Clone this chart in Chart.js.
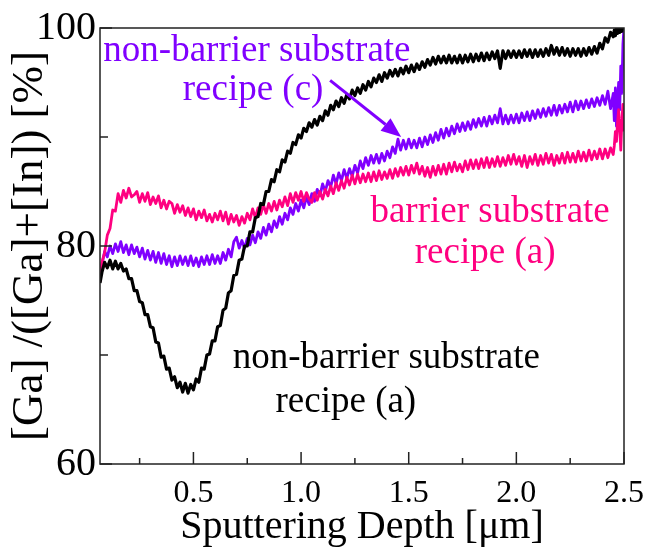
<!DOCTYPE html>
<html><head><meta charset="utf-8">
<script src="https://cdn.jsdelivr.net/npm/chart.js@4.4.1/dist/chart.umd.min.js"></script>
<style>html,body{margin:0;padding:0;background:#fff;}#wrap{width:654px;height:553px;}</style>
</head><body><div id="wrap"><canvas id="c" width="654" height="553"></canvas></div>
<script>
// Sputtering depth [µm]
const depth = [0.066,
0.075,0.0875,0.1,0.1125,0.125,0.1375,0.15,0.1625,0.175,0.1875,0.2,0.2125,0.225,0.2375,0.25,0.2625,0.275,0.2875,0.3,0.3125,0.325,0.3375,0.35,0.3625,0.375,0.3875,0.4,0.4125,0.425,0.4375,0.45,0.4625,0.475,0.4875,0.5,0.5125,0.525,0.5375,0.55,0.5625,0.575,0.5875,0.6,0.6125,0.625,0.6375,0.65,0.6625,0.675,0.6875,0.7,0.7125,0.725,0.7375,0.75,0.7625,0.775,0.7875,0.8,0.8125,0.825,0.8375,0.85,0.8625,0.875,0.8875,0.9,0.9125,0.925,0.9375,0.95,0.9625,0.975,0.9875,1.0,1.0125,1.025,1.0375,1.05,1.0625,1.075,1.0875,1.1,1.1125,1.125,1.1375,1.15,1.1625,1.175,1.1875,1.2,1.2125,1.225,1.2375,1.25,1.2625,1.275,1.2875,1.3,1.3125,1.325,1.3375,1.35,1.3625,1.375,1.3875,1.4,1.4125,1.425,1.4375,1.45,1.4625,1.475,1.4875,1.5,1.5125,1.525,1.5375,1.55,1.5625,1.575,1.5875,1.6,1.6125,1.625,1.6375,1.65,1.6625,1.675,1.6875,1.7,1.7125,1.725,1.7375,1.75,1.7625,1.775,1.7875,1.8,1.8125,1.825,1.8375,1.85,1.8625,1.875,1.8875,1.9,1.9125,1.925,1.9375,1.95,1.9625,1.975,1.9875,2.0,2.0125,2.025,2.0375,2.05,2.0625,2.075,2.0875,2.1,2.1125,2.125,2.1375,2.15,2.1625,2.175,2.1875,2.2,2.2125,2.225,2.2375,2.25,2.2625,2.275,2.2875,2.3,2.3125,2.325,2.3375,2.35,2.3625,2.375,2.3875,2.4,2.4125,2.425,2.4375,2.45,
2.455,2.46,2.465,2.47,2.475,2.48,2.485,2.49,2.495,2.5];

// barrier substrate, recipe (a)  [Ga]/([Ga]+[In]) %
const barrierA = [76.7,
78.5,79.4,81.0,81.6,83.3,83.2,84.8,84.0,85.1,84.4,
85.3,84.5,84.7,85.0,84.0,84.8,84.1,84.9,83.8,84.5,
83.9,84.6,83.5,84.2,83.4,84.1,83.9,83.0,83.8,83.1,
83.7,82.8,83.5,82.7,83.4,82.4,83.2,82.6,83.3,82.3,
82.9,82.2,83.0,82.4,83.2,82.3,83.1,82.0,82.9,82.2,
82.8,81.9,82.7,82.1,83.0,82.4,83.4,82.6,83.5,82.9,
83.8,83.0,83.9,83.2,84.1,83.3,84.2,83.6,84.5,83.7,
84.8,84.0,84.9,84.2,85.0,84.1,84.9,84.3,84.0,84.9,
84.2,85.0,84.3,85.2,84.6,85.5,84.8,85.8,85.1,86.0,
85.3,86.3,85.6,86.5,85.7,86.6,85.8,86.6,85.9,86.7,
85.9,86.8,86.0,86.9,86.1,86.8,86.2,87.0,86.2,87.1,
86.4,87.2,86.5,87.3,86.5,87.4,86.7,87.6,86.6,87.3,
86.4,87.2,86.3,87.3,86.5,87.4,86.6,87.5,86.6,87.6,
86.8,87.7,86.9,87.5,86.8,87.8,87.0,87.9,87.1,87.9,
87.1,88.0,87.2,88.1,87.2,88.0,87.3,88.2,87.3,88.1,
87.4,88.3,87.5,88.4,87.5,88.2,87.3,88.3,87.2,88.2,
87.5,88.4,87.4,88.3,87.5,88.5,87.6,88.4,87.4,88.3,
87.6,88.5,87.6,88.6,87.7,88.5,87.7,88.7,87.8,88.6,
87.8,88.8,87.9,88.7,88.0,88.9,88.0,88.9,88.1,89.0,
88.4,
89.2,90.5,89.6,91.3,92.5,90.8,88.8,91.5,93.0,90.5];

// non-barrier substrate, recipe (c)
const nonBarrierC = [76.8,
78.3,79.5,79.0,80.0,79.3,80.2,79.5,80.4,79.4,80.1,
79.2,80.1,79.3,79.9,79.0,79.8,78.8,79.6,78.7,79.5,
78.5,79.4,78.4,79.3,78.3,79.1,78.1,79.0,78.2,79.1,
78.3,79.0,78.2,79.1,78.2,78.9,78.1,79.0,78.3,79.1,
78.3,79.2,78.4,79.1,78.4,79.4,78.7,79.7,79.0,80.4,
80.8,79.8,80.5,79.8,80.7,80.1,81.0,80.3,81.3,80.7,
81.7,81.0,82.0,81.3,82.3,81.7,82.7,82.0,83.0,82.4,
83.5,82.9,83.9,83.2,84.2,83.5,84.5,83.8,84.8,84.1,
85.2,84.6,85.7,85.0,86.0,85.4,86.5,85.7,86.7,86.0,
87.0,86.2,87.1,86.4,87.4,86.7,87.8,87.1,88.1,87.4,
88.3,87.6,88.4,87.6,88.5,87.8,88.7,88.1,89.1,88.5,
89.8,88.8,89.7,88.9,89.8,89.0,89.7,89.0,89.9,89.1,
90.0,89.3,90.2,89.5,90.4,89.7,90.7,89.9,90.8,90.1,
91.0,90.3,91.2,90.5,91.3,90.6,91.4,90.7,91.6,90.9,
91.7,91.0,91.8,91.0,91.9,91.2,92.0,91.3,92.6,91.2,
92.0,91.2,92.0,91.3,92.1,91.3,92.2,91.5,92.3,91.5,
92.4,91.7,92.5,91.8,92.6,91.9,92.7,92.0,92.9,92.0,
92.9,92.2,93.0,92.3,93.2,92.3,93.3,92.5,93.3,92.6,
93.4,92.7,93.5,92.8,93.6,92.9,93.8,93.0,94.2,92.6,
94.0,
91.5,94.5,91.0,93.0,95.0,92.5,96.5,94.0,98.5,100.0];

// non-barrier substrate, recipe (a)
const nonBarrierA = [76.6,
77.6,78.5,78.0,78.7,77.9,78.6,77.9,78.4,77.7,77.9,
77.0,77.0,75.9,75.9,74.9,74.8,73.7,73.7,72.6,72.5,
71.2,71.1,69.8,69.9,68.7,68.8,67.7,68.0,67.0,67.5,
66.6,67.4,66.5,67.3,66.8,67.8,67.5,68.8,68.7,70.0,
70.1,71.3,71.3,72.6,72.7,74.1,74.3,75.7,75.9,77.3,
77.4,78.7,78.8,80.0,80.0,81.3,81.3,82.6,82.7,83.9,
83.8,85.0,85.0,86.1,85.9,87.0,86.8,87.9,87.7,88.7,
88.5,89.5,89.3,90.2,89.9,90.8,90.5,91.3,90.9,91.6,
91.1,91.9,91.5,92.4,92.0,92.9,92.5,93.3,92.8,93.6,
93.1,93.9,93.5,94.3,93.8,94.5,94.0,94.8,94.3,95.1,
94.6,95.4,95.0,95.7,95.1,95.9,95.4,96.1,95.6,96.2,
95.6,96.3,95.8,96.5,95.9,96.6,96.0,96.7,96.2,96.9,
96.4,97.1,96.6,97.3,96.7,97.4,96.8,97.4,96.8,97.5,
96.8,97.4,96.8,97.5,96.8,97.5,96.9,97.6,96.9,97.6,
97.0,97.7,97.0,97.7,97.1,97.8,97.2,97.9,96.3,97.9,
97.2,97.9,97.3,97.9,97.3,97.9,97.3,98.0,97.4,98.0,
97.3,98.0,97.4,98.0,97.4,98.1,97.5,98.4,97.6,98.2,
97.5,98.2,97.5,98.1,97.4,98.1,97.5,98.1,97.4,98.1,
97.5,98.2,97.6,98.3,97.7,98.6,98.1,99.1,98.7,99.6,
99.2,
99.8,99.3,100.0,99.5,100.0,99.6,100.0,99.7,100.0,100.0];

const xTickValues = [0.5,1.0,1.5,2.0,2.5];
const xMinorTicks = [0.25,0.75,1.25,1.75,2.25];
const yTickValues = [60,80,100];
const yMinorTicks = [70,90];

const PURPLE = '#8000ff', PINK = '#ff0080', BLACK = '#000000';
const SERIF = "'Liberation Serif','Times New Roman',serif";

const notes = [
  {text:'non-barrier substrate', x:0.795, y:97.9, color:PURPLE},
  {text:'recipe (c)', x:0.777, y:94.3, color:PURPLE},
  {text:'barrier substrate', x:1.878, y:83.1, color:PINK},
  {text:'recipe (a)', x:1.855, y:79.3, color:PINK},
  {text:'non-barrier substrate', x:1.396, y:69.7, color:BLACK},
  {text:'recipe (a)', x:1.208, y:65.7, color:BLACK}
];
const arrowNote = {x0:1.135, y0:95.2, x1:1.465, y1:90.0, color:PURPLE};

function pts(arr){ return depth.map((x,i)=>({x:x, y:arr[i]})); }

const decor = {
  id:'decor',
  afterDatasetsDraw(chart){
    const {ctx, chartArea:a, scales:{x, y}} = chart;
    ctx.save();
    ctx.strokeStyle = '#222'; ctx.lineWidth = 1.5;
    ctx.beginPath();
    xTickValues.forEach(v=>{const p=x.getPixelForValue(v); ctx.moveTo(p,a.bottom); ctx.lineTo(p,a.bottom-12);});
    xMinorTicks.forEach(v=>{const p=x.getPixelForValue(v); ctx.moveTo(p,a.bottom); ctx.lineTo(p,a.bottom-6);});
    yTickValues.forEach(v=>{const p=y.getPixelForValue(v); ctx.moveTo(a.left,p); ctx.lineTo(a.left+12,p);});
    yMinorTicks.forEach(v=>{const p=y.getPixelForValue(v); ctx.moveTo(a.left,p); ctx.lineTo(a.left+8,p);});
    ctx.stroke();
    ctx.strokeRect(a.left, a.top, a.right-a.left, a.bottom-a.top);
    ctx.font = '37px ' + SERIF;
    ctx.textAlign = 'center'; ctx.textBaseline = 'middle';
    notes.forEach(n=>{ctx.fillStyle=n.color; ctx.fillText(n.text, x.getPixelForValue(n.x), y.getPixelForValue(n.y));});
    const ax0=x.getPixelForValue(arrowNote.x0), ay0=y.getPixelForValue(arrowNote.y0);
    const ax1=x.getPixelForValue(arrowNote.x1), ay1=y.getPixelForValue(arrowNote.y1);
    const ang=Math.atan2(ay1-ay0, ax1-ax0);
    const hl=20, hw=8;
    const bx=ax1-hl*Math.cos(ang), by=ay1-hl*Math.sin(ang);
    ctx.strokeStyle=arrowNote.color; ctx.fillStyle=arrowNote.color; ctx.lineWidth=3;
    ctx.beginPath(); ctx.moveTo(ax0,ay0); ctx.lineTo(bx,by); ctx.stroke();
    ctx.beginPath(); ctx.moveTo(ax1,ay1);
    ctx.lineTo(bx+hw*Math.sin(ang), by-hw*Math.cos(ang));
    ctx.lineTo(bx-hw*Math.sin(ang), by+hw*Math.cos(ang));
    ctx.closePath(); ctx.fill();
    ctx.restore();
  }
};

new Chart(document.getElementById('c'), {
  type:'line',
  data:{datasets:[
    {label:'non-barrier substrate recipe (a)', data:pts(nonBarrierA), borderColor:BLACK, borderWidth:3.2, order:1},
    {label:'barrier substrate recipe (a)', data:pts(barrierA), borderColor:PINK, borderWidth:2.8, order:2},
    {label:'non-barrier substrate recipe (c)', data:pts(nonBarrierC), borderColor:PURPLE, borderWidth:2.8, order:3}
  ]},
  options:{
    responsive:false, animation:false, devicePixelRatio:1,
    elements:{point:{radius:0}, line:{tension:0, borderJoinStyle:'round'}},
    layout:{padding:{top:16, right:23, left:0, bottom:0}},
    plugins:{legend:{display:false}, tooltip:{enabled:false}},
    scales:{
      x:{type:'linear', min:0.066, max:2.5,
        afterFit(s){s.height=89;},
        afterBuildTicks(s){s.ticks=xTickValues.map(v=>({value:v}));},
        grid:{display:false, drawTicks:false}, border:{display:false},
        ticks:{callback:v=>Number(v).toFixed(1), color:'#000', font:{family:SERIF, size:32}, padding:10, maxRotation:0, autoSkip:false},
        title:{display:true, text:'Sputtering Depth [μm]', color:'#000', font:{family:SERIF, size:40}, padding:{top:0,bottom:2}}
      },
      y:{type:'linear', min:60, max:100,
        afterFit(s){s.width=100;},
        afterBuildTicks(s){s.ticks=yTickValues.map(v=>({value:v}));},
        grid:{display:false, drawTicks:false}, border:{display:false},
        ticks:{color:'#000', font:{family:SERIF, size:40}, padding:4},
        title:{display:true, text:'[Ga] /([Ga]+[In]) [%]', color:'#000', font:{family:SERIF, size:45}, padding:{top:3,bottom:0}}
      }
    }
  },
  plugins:[decor]
});
</script></body></html>
